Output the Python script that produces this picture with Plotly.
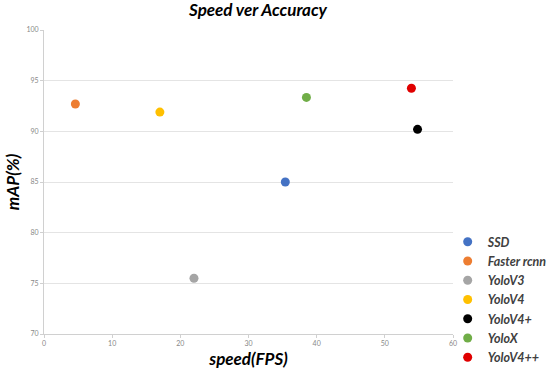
import plotly.graph_objects as go

models = ["SSD", "Faster rcnn", "YoloV3", "YoloV4", "YoloV4+", "YoloX", "YoloV4++"]
speed_fps = [35.4, 4.6, 22.0, 17.0, 54.8, 38.5, 53.9]
map_pct = [85.0, 92.7, 75.5, 91.9, 90.2, 93.35, 94.25]
colors = ["#4472C4", "#ED7D31", "#A5A5A5", "#FFC000", "#000000", "#70AD47", "#E00000"]
x_ticks = [0, 10, 20, 30, 40, 50, 60]
y_ticks = [70, 75, 80, 85, 90, 95, 100]

FONT = "Lato, Open Sans, sans-serif"

fig = go.Figure()
for name, x, y, c in zip(models, speed_fps, map_pct, colors):
    fig.add_trace(go.Scatter(
        x=[x], y=[y], mode="markers", name="<b><i>" + name + "</i></b>",
        marker=dict(color=c, size=9, line=dict(width=0)),
    ))

axis_font = dict(family=FONT, size=17, color="#000000")
fig.update_layout(
    width=550, height=375,
    margin=dict(l=44, r=97, t=30, b=41, autoexpand=False),
    paper_bgcolor="white", plot_bgcolor="white",
    title=dict(text="<b><i>Speed ver Accuracy</i></b>", x=(258 / 550), xanchor="center",
               xref="container", y=0.972, yref="container", yanchor="middle",
               font=dict(family=FONT, size=17, color="#000")),
    showlegend=True,
    legend=dict(x=0.987, xanchor="left", y=0.113, yanchor="middle",
                font=dict(family=FONT, size=12.5, color="#404040"),
                itemsizing="trace", tracegroupgap=0, bgcolor="rgba(0,0,0,0)"),
    xaxis=dict(range=[0, 60], tickvals=x_ticks, showgrid=False, zeroline=False,
               showline=True, linecolor="#D0D0D0", linewidth=1, automargin=False,
               ticks="outside", ticklen=3, tickcolor="#D0D0D0",
               tickfont=dict(size=7, color="#888888", family=FONT),
               title=dict(text="<b><i>speed(FPS)</i></b>", font=axis_font, standoff=6)),
    yaxis=dict(range=[70, 100], tickvals=y_ticks, showgrid=True, gridcolor="#E4E4E4",
               zeroline=False, showline=True, linecolor="#D0D0D0", linewidth=1,
               automargin=False,
               ticks="outside", ticklen=3, tickcolor="#D0D0D0",
               tickfont=dict(size=7, color="#888888", family=FONT),
               title=dict(text="<b><i>mAP(%)</i></b>", font=axis_font, standoff=2)),
)

fig.write_html("out.html", config={"displayModeBar": False},
               post_script="document.body.style.margin='0';")
